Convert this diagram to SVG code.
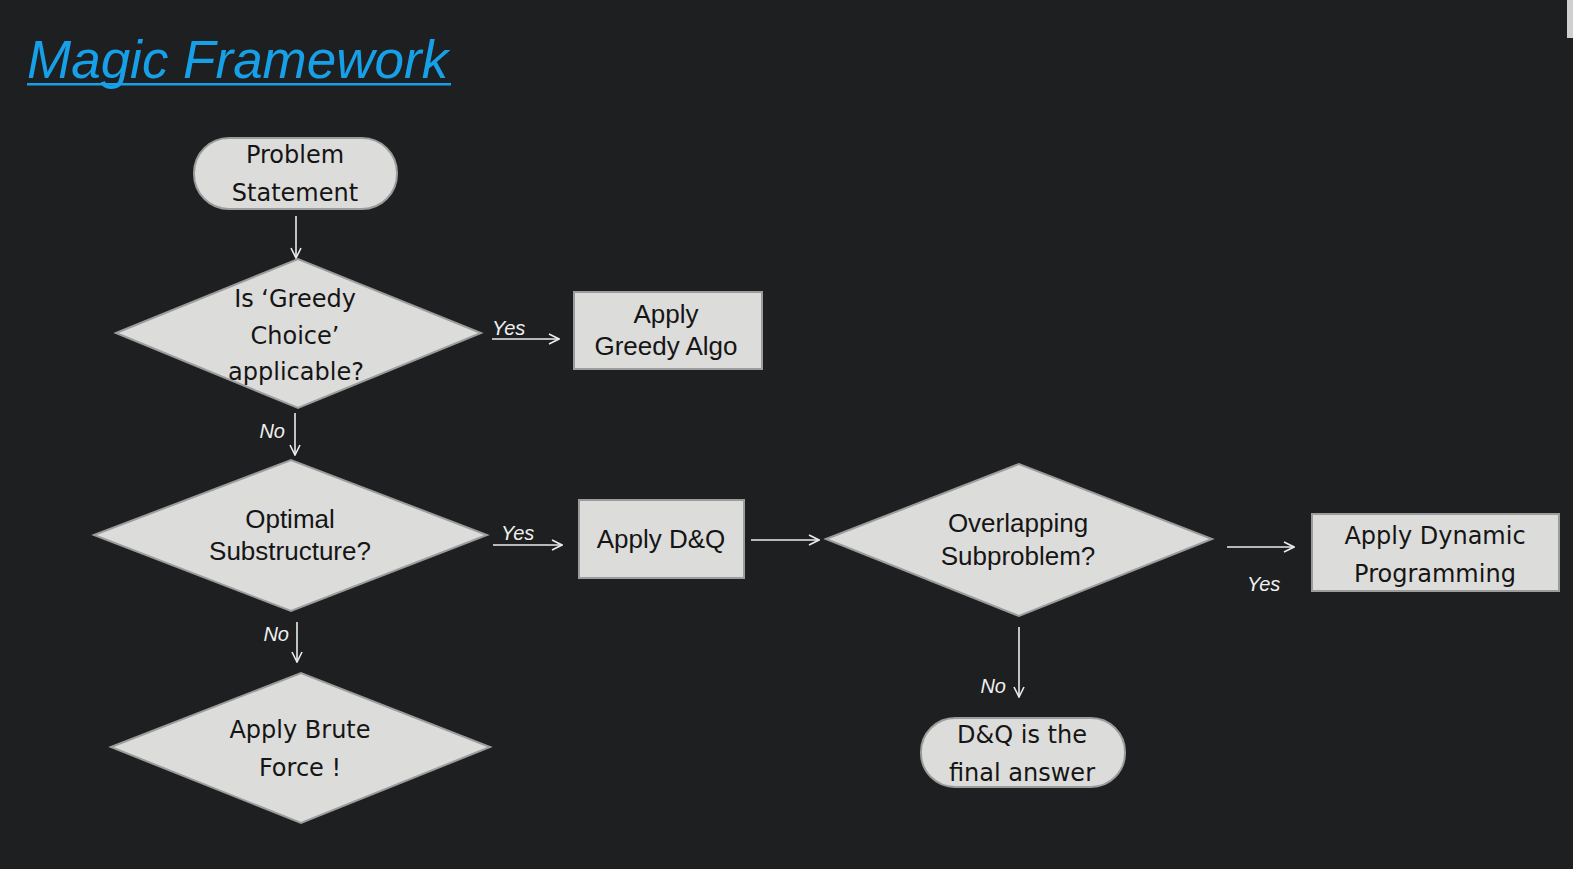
<svg xmlns="http://www.w3.org/2000/svg" width="1573" height="869" viewBox="0 0 1573 869">
<style>
.shape{fill:#dcdcda;stroke:#9c9c9c;stroke-width:2}
.cg{font-family:"DejaVu Sans",sans-serif;font-size:24px;fill:#151515;text-anchor:middle}
.ar{font-family:"Liberation Sans",Arial,sans-serif;font-size:26px;fill:#151515;text-anchor:middle}
.lbl{font-family:"Liberation Sans",Arial,sans-serif;font-size:20px;font-style:italic;fill:#f0f0f0}
.conn{stroke:#ececec;stroke-width:1.6;fill:none;marker-end:url(#arr)}
</style>
<defs>
<marker id="arr" viewBox="0 0 12 12" refX="11" refY="6" markerWidth="12" markerHeight="12" markerUnits="userSpaceOnUse" orient="auto">
<path d="M1,1 L11,6 L1,11" fill="none" stroke="#ececec" stroke-width="1.6"/>
</marker>
</defs>
<rect width="1573" height="869" fill="#1d1f21"/>
<rect x="1567" y="0" width="6" height="38" fill="#cfcfcf"/>
<g id="title">
<text x="27" y="78" font-family="Liberation Sans,Arial,sans-serif" font-size="53" font-style="italic" fill="#17a0e8">Magic Framework</text>
<rect x="27" y="83" width="424" height="2.5" fill="#17a0e8"/>
</g>
<g id="connectors">
<line class="conn" x1="296" y1="216" x2="296" y2="258"/>
<line class="conn" x1="492" y1="339" x2="559" y2="339"/>
<line class="conn" x1="295" y1="413" x2="295" y2="455"/>
<line class="conn" x1="493" y1="545" x2="562" y2="545"/>
<line class="conn" x1="751" y1="540" x2="819" y2="540"/>
<line class="conn" x1="1227" y1="547" x2="1294" y2="547"/>
<line class="conn" x1="1019" y1="627" x2="1019" y2="697"/>
<line class="conn" x1="297" y1="622" x2="297" y2="662"/>
<text class="lbl" x="492" y="335">Yes</text>
<text class="lbl" x="285" y="438" text-anchor="end">No</text>
<text class="lbl" x="501" y="540">Yes</text>
<text class="lbl" x="1247" y="591">Yes</text>
<text class="lbl" x="1006" y="693" text-anchor="end">No</text>
<text class="lbl" x="289" y="641" text-anchor="end">No</text>
</g>
<g id="problem">
<rect class="shape" x="194" y="138" width="203" height="71" rx="35"/>
<text class="cg" x="295" y="163">Problem</text>
<text class="cg" x="295" y="201">Statement</text>
</g>
<g id="greedy-q">
<polygon class="shape" points="116,333 298,259 481,333 298,408"/>
<text class="cg" x="295" y="307">Is ‘Greedy</text>
<text class="cg" x="295" y="344">Choice’</text>
<text class="cg" x="296" y="380" font-size="25">applicable?</text>
</g>
<g id="greedy">
<rect class="shape" x="574" y="292" width="188" height="77"/>
<text class="ar" x="666" y="323">Apply</text>
<text class="ar" x="666" y="355">Greedy Algo</text>
</g>
<g id="optimal">
<polygon class="shape" points="94,535 291,460 487,535 291,611"/>
<text class="ar" x="290" y="528">Optimal</text>
<text class="ar" x="290" y="560">Substructure?</text>
</g>
<g id="dq">
<rect class="shape" x="579" y="500" width="165" height="78"/>
<text class="ar" x="661" y="548">Apply D&amp;Q</text>
</g>
<g id="overlap">
<polygon class="shape" points="826,539 1019,464 1212,539 1019,616"/>
<text class="ar" x="1018" y="532">Overlapping</text>
<text class="ar" x="1018" y="565">Subproblem?</text>
</g>
<g id="dp">
<rect class="shape" x="1312" y="514" width="247" height="77"/>
<text class="cg" x="1435" y="544">Apply Dynamic</text>
<text class="cg" x="1435" y="582">Programming</text>
</g>
<g id="final">
<rect class="shape" x="921" y="718" width="204" height="69" rx="34"/>
<text class="cg" x="1022" y="743">D&amp;Q is the</text>
<text class="cg" x="1022" y="781">final answer</text>
</g>
<g id="brute">
<polygon class="shape" points="111,747 301,673 490,747 301,823"/>
<text class="cg" x="300" y="738">Apply Brute</text>
<text class="cg" x="300" y="776">Force !</text>
</g>
</svg>
